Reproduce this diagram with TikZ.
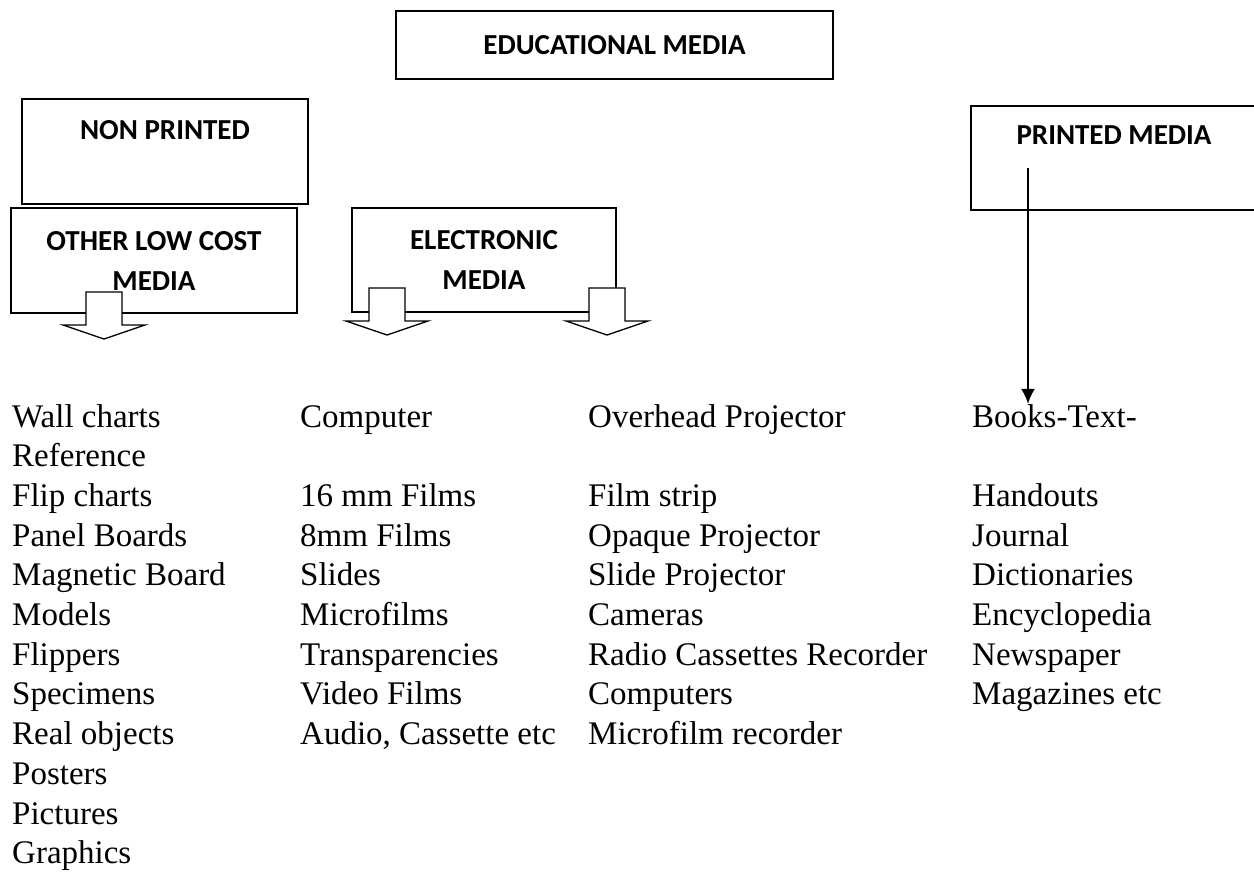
\documentclass[tikz,border=0pt]{standalone}
\usepackage{fontspec}
\setmainfont{Liberation Serif}
\newfontfamily\boxfont{Carlito}
\usetikzlibrary{positioning}
\usetikzlibrary{arrows.meta}
\usetikzlibrary{calc}

\begin{document}
\begin{tikzpicture}[x=1pt, y=-1pt,
    box/.style={align=center, rectangle, draw=black, line width=2pt, anchor=north west, inner sep=0pt, font=\boxfont\bfseries\fontsize{29}{40}\selectfont},
    head/.style={align=center, inner sep=0pt, font=\boxfont\bfseries\fontsize{29}{40}\selectfont},
    item/.style={anchor=base west, inner sep=0pt, font=\fontsize{33}{40}\selectfont},
    blockarrow/.pic={\draw[line width=1.3pt, fill=white] (-18,0) -- (-18,33) -- (-41,33) -- (0,47) -- (41,33) -- (18,33) -- (18,0) -- cycle;},
]
    \useasboundingbox (0,0) rectangle (1254,871);

    \node[box, minimum width=437pt, minimum height=68pt] (edu) at (395,10) {EDUCATIONAL MEDIA};

    \node[box, minimum width=286pt, minimum height=105pt] (nonprint) at (21,98) {};
    \node[head] (nonprinttext) at ($(nonprint.north)+(0,32)$) {NON PRINTED};

    \node[box, minimum width=286pt, minimum height=105pt] (lowcost) at (10,207) {OTHER LOW COST\\MEDIA};
    \node[box, minimum width=264pt, minimum height=104pt] (electronic) at (351,207) {ELECTRONIC\\MEDIA};

    \node[box, minimum width=286pt, minimum height=104pt] (printed) at (970,105) {};
    \node[head] (printedtext) at ($(printed.north)+(0,30)$) {PRINTED MEDIA};

    % block arrows
    \pic at ($(lowcost.south west)+(94,-22)$) {blockarrow};
    \pic at ($(electronic.south west)+(36,-25)$) {blockarrow};
    \pic at ($(electronic.south west)+(256,-25)$) {blockarrow};

    % lists
    \foreach \r/\t in {1/Wall charts, 2/Reference, 3/Flip charts, 4/Panel Boards, 5/Magnetic Board, 6/Models, 7/Flippers, 8/Specimens, 9/Real objects, 10/Posters, 11/Pictures, 12/Graphics}
        \node[item] (low\r) at (12, {427+39.7*(\r-1)}) {\t};
    \foreach \r/\t in {1/Computer, 3/16 mm Films, 4/8mm Films, 5/Slides, 6/Microfilms, 7/Transparencies, 8/Video Films, 9/{Audio, Cassette etc}}
        \node[item] (elec\r) at (300, {427+39.7*(\r-1)}) {\t};
    \foreach \r/\t in {1/Overhead Projector, 3/Film strip, 4/Opaque Projector, 5/Slide Projector, 6/Cameras, 7/Radio Cassettes Recorder, 8/Computers, 9/Microfilm recorder}
        \node[item] (proj\r) at (588, {427+39.7*(\r-1)}) {\t};
    \foreach \r/\t in {1/Books-Text-, 3/Handouts, 4/Journal, 5/Dictionaries, 6/Encyclopedia, 7/Newspaper, 8/Magazines etc}
        \node[item] (print\r) at (972, {427+39.7*(\r-1)}) {\t};

    \coordinate (pstart) at ($(printed.north west)+(58,63)$);
    \draw[-{Latex[length=15pt, width=14pt]}, line width=2pt] (pstart) -- (pstart |- print1.north);

\end{tikzpicture}
\end{document}
